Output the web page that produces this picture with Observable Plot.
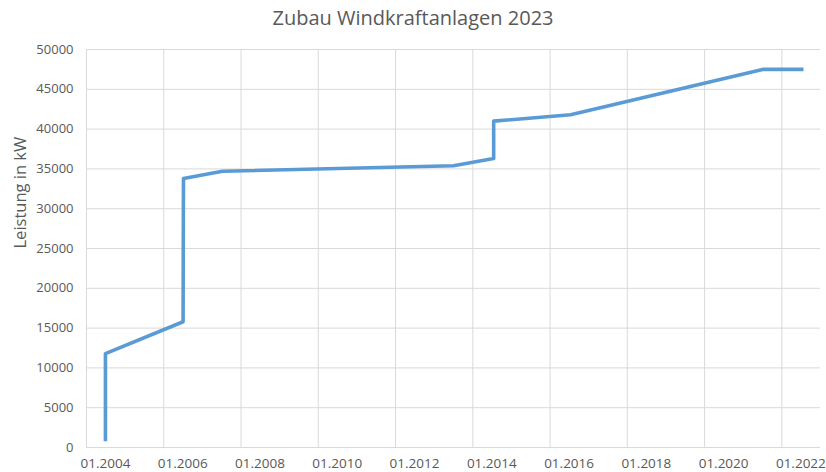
<!DOCTYPE html>
<html>
<head>
<meta charset="utf-8">
<script src="https://cdn.jsdelivr.net/npm/d3@7"></script>
<script src="https://cdn.jsdelivr.net/npm/@observablehq/plot@0.6"></script>
<style>
  html, body { margin: 0; padding: 0; background: #fff; }
  #wrap { width: 826px; height: 472px; overflow: hidden; font-family: "Open Sans", sans-serif; }
  #title { height: 36px; line-height: 36px; text-align: center; font-size: 20px; color: #595959; }
</style>
</head>
<body>
<div id="wrap">
  <div id="title">Zubau Windkraftanlagen 2023</div>
  <div id="chart"></div>
</div>
<script>
// Data
const dates  = [2004.49, 2004.49, 2006.5, 2006.51, 2007.52, 2013.5, 2014.54, 2014.54, 2016.53, 2021.5, 2022.56];
const values = [800, 11800, 15800, 33800, 34700, 35400, 36300, 41000, 41800, 47500, 47500];
const xTicks = [2004, 2006, 2008, 2010, 2012, 2014, 2016, 2018, 2020, 2022];
const xTickLabels = ["01.2004", "01.2006", "01.2008", "01.2010", "01.2012", "01.2014", "01.2016", "01.2018", "01.2020", "01.2022"];
const yTicks = [0, 5000, 10000, 15000, 20000, 25000, 30000, 35000, 40000, 45000, 50000];
const yLabel = "Leistung in kW";

const data = dates.map((d, i) => ({date: d, value: values[i]}));
const grey = "#595959";

const chart = Plot.plot({
  width: 826,
  height: 436,
  marginTop: 13,
  marginBottom: 25,
  marginLeft: 86,
  marginRight: 6,
  style: {fontFamily: "'Open Sans', sans-serif", fontSize: "13px", color: grey, background: "#fff"},
  x: {type: "linear", domain: [2004, 2023]},
  y: {domain: [0, 50000]},
  marks: [
    Plot.gridX(xTicks, {stroke: "#d9d9d9", strokeOpacity: 1, strokeWidth: 1}),
    Plot.gridY(yTicks, {stroke: "#d9d9d9", strokeOpacity: 1, strokeWidth: 1}),
    Plot.axisX(xTicks, {tickSize: 0, tickPadding: 11, dx: 19, fontSize: 13.5, tickFormat: (d) => xTickLabels[xTicks.indexOf(d)], label: null, fill: grey}),
    Plot.axisY(yTicks, {tickSize: 0, tickPadding: 13, fontSize: 13, tickFormat: d => String(d), label: null, fill: grey}),
    Plot.text([yLabel], {frameAnchor: "left", rotate: -90, dx: -66, fontSize: 16.5, fill: grey}),
    Plot.line(data, {x: "date", y: "value", stroke: "#5B9BD5", strokeWidth: 3.6, strokeLinejoin: "round", strokeLinecap: "butt"})
  ]
});
document.getElementById("chart").appendChild(chart);
</script>
</body>
</html>
